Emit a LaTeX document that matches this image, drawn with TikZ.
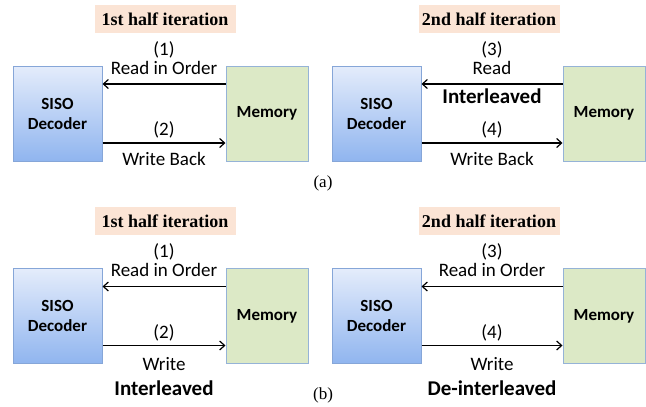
\documentclass[tikz,border=0pt]{standalone}
\usepackage{fontspec}
\setmainfont{Liberation Serif}
\newfontfamily\calfont{Carlito}
\usetikzlibrary{arrows.meta}
\definecolor{sisotop}{HTML}{E4ECFB}
\definecolor{sisobot}{HTML}{90B5EF}
\definecolor{sisoline}{HTML}{86A6D8}
\definecolor{memfill}{HTML}{DCE9C6}
\definecolor{memline}{HTML}{95B3D7}
\definecolor{ttlfill}{HTML}{FBE4D5}
\begin{document}
\begin{tikzpicture}[x=1pt,y=-1pt,
  siso/.style={draw=sisoline,line width=1pt,top color=sisotop,bottom color=sisobot,
    minimum width=89pt,minimum height=95pt,align=center,
    font=\calfont\bfseries\fontsize{17}{20}\selectfont},
  mem/.style={draw=memline,line width=1pt,fill=memfill,
    minimum width=82pt,minimum height=95pt,
    font=\calfont\bfseries\fontsize{17}{20}\selectfont},
  ttl/.style={fill=ttlfill,minimum width=141pt,minimum height=28pt,
    font=\bfseries\fontsize{18}{20}\selectfont},
  lbl/.style={font=\calfont\fontsize{19}{19}\selectfont,align=center,inner sep=3pt},
  blbl/.style={font=\calfont\bfseries\fontsize{21}{22}\selectfont,align=center,inner sep=3pt},
  subcap/.style={font=\fontsize{17}{19}\selectfont},
  arr/.style={-{Straight Barb[length=5pt,width=9pt]},line width=1.2pt}]
\useasboundingbox (0,0) rectangle (646,407);

% (a) first half
\node[ttl] (t1) at (165,19) {1st half iteration};
\node[siso] (s1) at (57.5,113.5) {SISO\\Decoder};
\node[mem]  (m1) at (267,113.5) {Memory};
\path[arr]
    ([yshift=29.5pt]m1.west) edge node[lbl,above=6pt] {(1)\\Read in Order} ([yshift=29.5pt]s1.east)
    ([yshift=-29.5pt]s1.east) edge node[lbl,above=1pt] {(2)} node[lbl,below=6pt] {Write Back} ([yshift=-29.5pt]m1.west);

% (a) second half
\node[ttl] (t2) at (489,19) {2nd half iteration};
\node[siso] (s2) at (376.5,113.5) {SISO\\Decoder};
\node[mem]  (m2) at (604,113.5) {Memory};
\path[arr]
    ([yshift=29.5pt]m2.west) edge node[lbl,above=6pt] {(3)\\Read} node[blbl,below=1pt] {Interleaved} ([yshift=29.5pt]s2.east)
    ([yshift=-29.5pt]s2.east) edge node[lbl,above=1pt] {(4)} node[lbl,below=6pt] {Write Back} ([yshift=-29.5pt]m2.west);

\node[subcap] (ca) at (323,183) {(a)};

% (b) first half
\node[ttl] (t3) at (165,221) {1st half iteration};
\node[siso] (s3) at (57.5,316) {SISO\\Decoder};
\node[mem]  (m3) at (267,316) {Memory};
\path[arr]
    ([yshift=29.5pt]m3.west) edge node[lbl,above=6pt] {(1)\\Read in Order} ([yshift=29.5pt]s3.east)
    ([yshift=-29.5pt]s3.east) edge node[lbl,above=1pt] {(2)} node[lbl,below=8pt] (w3) {Write} ([yshift=-29.5pt]m3.west);
\node[blbl,anchor=north] (i3) at ([yshift=-4pt]w3.south) {Interleaved};

% (b) second half
\node[ttl] (t4) at (489,221) {2nd half iteration};
\node[siso] (s4) at (376.5,316) {SISO\\Decoder};
\node[mem]  (m4) at (604,316) {Memory};
\path[arr]
    ([yshift=29.5pt]m4.west) edge node[lbl,above=6pt] {(3)\\Read in Order} ([yshift=29.5pt]s4.east)
    ([yshift=-29.5pt]s4.east) edge node[lbl,above=1pt] {(4)} node[lbl,below=8pt] (w4) {Write} ([yshift=-29.5pt]m4.west);
\node[blbl,anchor=north] (i4) at ([yshift=-4pt]w4.south) {De-interleaved};

\node[subcap] (cb) at (323,395) {(b)};
\end{tikzpicture}
\end{document}
